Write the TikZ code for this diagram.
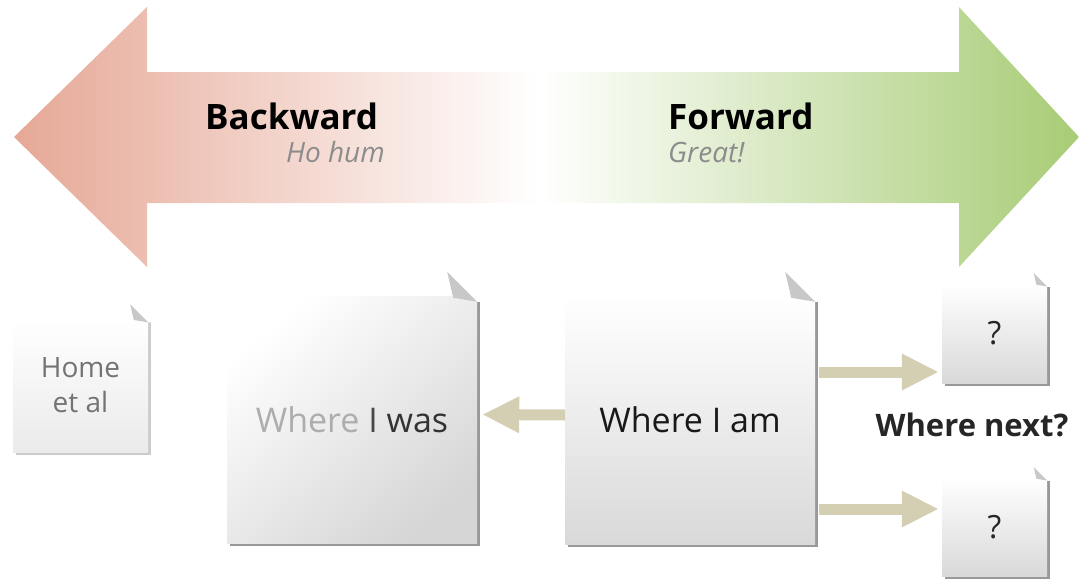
\documentclass[tikz,border=0pt]{standalone}
\usepackage{fontspec}
\setmainfont{Open Sans}
\usetikzlibrary{arrows.meta,shadows,calc}

\definecolor{backred}{RGB}{230,168,150}
\definecolor{forgreen}{RGB}{168,204,118}
\definecolor{linkbeige}{RGB}{212,206,178}
\definecolor{flapgray}{RGB}{200,200,200}

\tikzset{
	sheet/.style={inner sep=0pt, top color=white, bottom color=black!15,
		drop shadow={shadow xshift=3pt, shadow yshift=-3pt, opacity=1, fill=#1}},
	sheet/.default=black!40,
	link/.style={linkbeige, line width=11pt, -{Triangle[length=37pt,width=34pt]}},
	headword/.style={inner sep=0pt, font=\bfseries\fontsize{35}{40}\selectfont},
	subnote/.style={inner sep=0pt, text=black!45, font=\itshape\fontsize{28}{32}\selectfont}
}

% dog-ear on the top right corner of a page
\newcommand\pageflap[2]{%
	\fill[white] ($(#1.north east)+(-24*#2-2,-2)$) -- ($(#1.north east)+(5,-2)$) -- ($(#1.north east)+(5,6*#2)$)
		-- ($(#1.north east)+(0,6*#2)$) -- ($(#1.north east)+(-24*#2,2*#2)$) -- cycle;
	\fill[flapgray] ($(#1.north east)+(-24*#2,2*#2)$) -- ($(#1.north east)+(0,6*#2)$) -- ($(#1.north east)+(-30*#2,-24*#2)$) -- cycle;
}

\begin{document}
\begin{tikzpicture}[x=1pt,y=-1pt]
	\useasboundingbox (0,0) rectangle (1079,581);

	% the two big arrows
	\shade[left color=backred, middle color=backred!60, right color=white]
		(14,137) -- (147,7) -- (147,72) -- (540,72) -- (540,203) -- (147,203) -- (147,267) -- cycle;
	\shade[left color=white, middle color=forgreen!60, right color=forgreen]
		(540,72) -- (959,72) -- (959,7) -- (1079,137) -- (959,267) -- (959,203) -- (540,203) -- cycle;

	\node[headword, anchor=base west] (backward) at (205,129) {Backward};
	\node[subnote, anchor=base east] (hohum) at (385,162) {Ho hum};
	\node[headword, anchor=base west] (forward) at (668,129) {Forward};
	\node[subnote, anchor=base west] (great) at (668,162) {Great!};

	% pages
	\node[sheet=black!20, bottom color=black!8, minimum width=135pt, minimum height=133pt, align=center,
		text=black!55, font=\fontsize{28}{35}\selectfont] (home) at (80.5,385.5) {Home\\et al};
	\node[sheet, top color=white, bottom color=black!16, shading angle=40, minimum width=250pt, minimum height=247pt,
		font=\fontsize{34}{40}\selectfont] (was) at (352,419.5)
		{{\color{black!32}Where} {\color{black!72}I} {\color{black!80}was}};
	\node[sheet, minimum width=250pt, minimum height=248pt, text=black!90,
		font=\fontsize{34}{40}\selectfont] (am) at (690,420) {Where I am};
	\node[sheet, minimum width=105pt, minimum height=99pt, text=black!85,
		font=\fontsize{32}{36}\selectfont] (nexta) at (994.5,333.5) {?};
	\node[sheet, minimum width=105pt, minimum height=98pt, text=black!85,
		font=\fontsize{32}{36}\selectfont] (nextb) at (994.5,527) {?};

	\foreach \n/\s in {home/0.6, was/1, am/1, nexta/0.45, nextb/0.45}
		\pageflap{\n}{\s};

	\node[text=black!85, font=\bfseries\fontsize{31}{36}\selectfont] (wherenext) at (972,425) {Where next?};

	% connectors
	\draw[link, shorten >=5pt] ([yshift=5pt]am.west) -- ([yshift=5pt]was.east);
	\draw[link, shorten <=4pt, shorten >=3pt] ([yshift=48pt]am.east) -- ([yshift=-38.5pt]nexta.west);
	\draw[link, shorten <=4pt, shorten >=3pt] ([yshift=-89pt]am.east) -- ([yshift=18pt]nextb.west);
\end{tikzpicture}
\end{document}
